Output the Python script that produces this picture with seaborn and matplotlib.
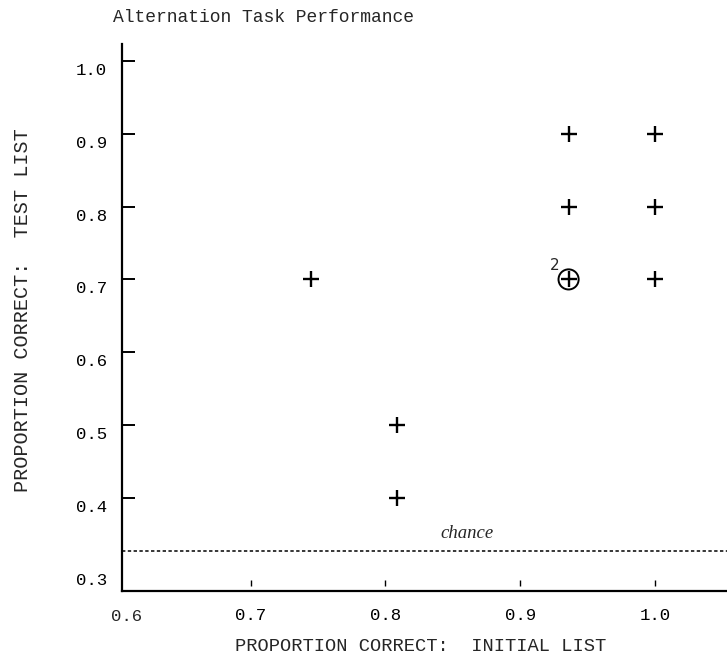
import matplotlib
matplotlib.use("Agg")
import matplotlib.pyplot as plt
from matplotlib.transforms import ScaledTranslation, blended_transform_factory
import seaborn as sns
import pandas as pd

# ---- data ----
initial_list = [0.745, 0.809, 0.809, 0.936, 0.936, 0.936, 1.0, 1.0, 1.0]
test_list = [0.7, 0.5, 0.4, 0.9, 0.8, 0.7, 0.9, 0.8, 0.7]
circled_x = [0.936]
circled_y = [0.7]
circled_count = ["2"]
chance_level = 0.328
x_ticks = [0.7, 0.8, 0.9, 1.0]
x_tick_labels = ["0.7", "0.8", "0.9", "1.0"]
y_ticks = [0.3, 0.4, 0.5, 0.6, 0.7, 0.8, 0.9, 1.0]
y_tick_labels = ["0.3", "0.4", "0.5", "0.6", "0.7", "0.8", "0.9", "1.0"]
title = "Alternation Task Performance"
x_label = "PROPORTION CORRECT:  INITIAL LIST"
y_label = "PROPORTION CORRECT:  TEST LIST"

sns.set_style("white")
plt.rcParams["font.family"] = ["Liberation Mono", "DejaVu Sans Mono"]

W, H = 727, 665
fig = plt.figure(figsize=(W / 100, H / 100), dpi=100)
ax = fig.add_axes([122 / W, 74 / H, (W - 122) / W, (591 - 44) / H])

df = pd.DataFrame({"initial": initial_list, "test": test_list})
sns.scatterplot(data=df, x="initial", y="test", marker="+", s=120,
                color="black", linewidth=1.7, ax=ax, legend=False)

circ = pd.DataFrame({"x": circled_x, "y": circled_y})
sns.scatterplot(data=circ, x="x", y="y", marker="o", s=210,
                facecolors="none", edgecolor="black", linewidth=1.4,
                ax=ax, legend=False)
for cx, cy, n in zip(circled_x, circled_y, circled_count):
    ax.annotate(n, (cx, cy), xytext=(-10, 10), textcoords="offset points",
                fontsize=11, ha="center", va="center",
                family=["DejaVu Sans"])

ax.axhline(chance_level, color="black", linewidth=1.1, linestyle=(0, (2.2, 1.6)))
ax.text(0.861, chance_level + 0.024, "chance", fontsize=13.5, style="italic",
        family=["Liberation Serif"], ha="center", va="center")

ax.set_xlim(0.6045, 1.0536)
ax.set_ylim(0.2725, 1.023)

ax.set_xticks(x_ticks)
ax.set_xticklabels(x_tick_labels, fontsize=12.5)
ax.set_yticks(y_ticks)
ax.set_yticklabels(y_tick_labels, fontsize=12.5)
ax.tick_params(axis="x", bottom=True, direction="in", length=0, width=1,
               pad=12.5, colors="black")
ax.tick_params(axis="y", left=True, direction="in", length=9, width=1.4,
               pad=11, colors="black")
# small floating x tick marks, slightly above the axis as in the original
trans = blended_transform_factory(ax.transData, ax.transAxes)
ax.vlines(x_ticks, 0.009, 0.021, transform=trans, color="black", linewidth=1.0)
# the 0.3 y tick has no mark in the original
ax.yaxis.get_major_ticks()[0].tick1line.set_visible(False)
off = ScaledTranslation(0, -8 / 100, fig.dpi_scale_trans)
for lab in ax.get_yticklabels():
    lab.set_transform(lab.get_transform() + off)

ax.text(0.608, -0.046, "0.6", transform=trans, fontsize=12.5,
        ha="center", va="center")

for side in ["top", "right"]:
    ax.spines[side].set_visible(False)
for side in ["left", "bottom"]:
    ax.spines[side].set_linewidth(1.6)
    ax.spines[side].set_color("black")

ax.set_xlabel(x_label, fontsize=13.5, va="center")
ax.xaxis.set_label_coords(0.493, -0.102)
ax.set_ylabel(y_label, fontsize=14.5, va="center")
ax.yaxis.set_label_coords(-0.165, 0.514)

fig.text(113 / W, 1 - 17 / H, title, fontsize=13, ha="left", va="center")

fig.savefig("out.png", dpi=100)
